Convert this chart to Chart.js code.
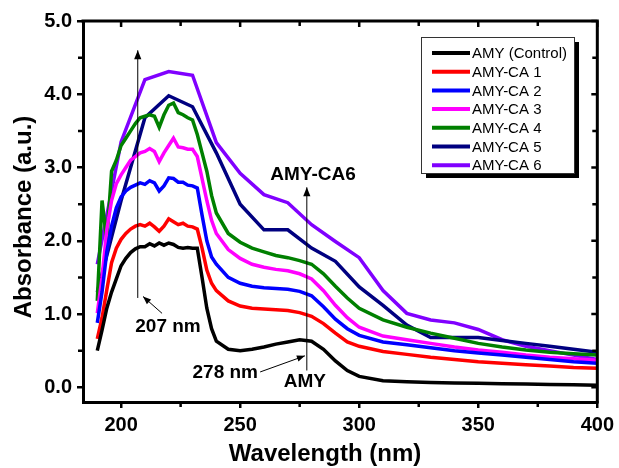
<!DOCTYPE html>
<html>
<head>
<meta charset="utf-8">
<script src="https://cdn.jsdelivr.net/npm/chart.js@4.4.1/dist/chart.umd.min.js"></script>
<style>
  html, body { margin: 0; padding: 0; background: #fff; }
</style>
</head>
<body>
<canvas id="uvChart" width="619" height="468"></canvas>
<script>
// wavelength grids (nm)
const wavelength = [190,192,194,196,198,200,202,204,206,208,210,212,214,216,218,220,222,224,226,228,230,232,234,236,238,240,
  245,250,255,260,265,270,275,280,285,290,295,300,310,320,330,340,350,360,370,380,390,400];
const wavelengthCoarse = [190,200,210,220,230,240,250,260,270,280,290,300,310,320,330,340,350,360,370,380,390,400];

// absorbance
const amyControl = [0.5,0.78,1.08,1.3,1.48,1.66,1.76,1.84,1.89,1.92,1.92,1.96,1.93,1.97,1.94,1.97,1.95,1.91,1.9,1.91,1.9,1.9,1.5,1.08,0.8,0.63,
  0.52,0.5,0.52,0.55,0.59,0.62,0.65,0.63,0.52,0.36,0.23,0.15,0.09,0.075,0.065,0.06,0.055,0.05,0.045,0.04,0.035,0.03];
const amyCA1 = [0.66,0.95,1.33,1.7,1.9,2.02,2.1,2.16,2.2,2.22,2.2,2.24,2.19,2.13,2.2,2.3,2.26,2.22,2.24,2.2,2.19,2.16,1.9,1.6,1.42,1.32,
  1.18,1.11,1.08,1.07,1.06,1.05,1.02,0.97,0.87,0.74,0.62,0.56,0.49,0.45,0.41,0.38,0.35,0.33,0.31,0.29,0.27,0.26];
const amyCA2 = [0.88,1.3,1.85,2.2,2.45,2.6,2.68,2.73,2.76,2.79,2.77,2.82,2.79,2.68,2.75,2.86,2.85,2.8,2.8,2.76,2.75,2.72,2.35,2.0,1.78,1.68,
  1.5,1.42,1.38,1.36,1.35,1.34,1.31,1.25,1.1,0.93,0.8,0.71,0.62,0.58,0.54,0.5,0.47,0.44,0.41,0.38,0.35,0.33];
const amyCA3 = [1.01,1.5,2.15,2.55,2.78,2.9,3.0,3.1,3.15,3.2,3.22,3.26,3.22,3.08,3.2,3.3,3.4,3.28,3.27,3.25,3.25,3.15,2.85,2.55,2.28,2.1,
  1.88,1.76,1.68,1.64,1.61,1.59,1.55,1.48,1.32,1.12,0.95,0.82,0.7,0.65,0.6,0.55,0.51,0.48,0.44,0.41,0.39,0.37];
const amyCA4 = [1.18,2.55,2.0,2.95,3.1,3.3,3.4,3.5,3.6,3.68,3.7,3.72,3.7,3.55,3.72,3.85,3.88,3.75,3.72,3.68,3.65,3.45,3.2,2.95,2.62,2.38,
  2.1,1.98,1.9,1.85,1.8,1.77,1.73,1.68,1.55,1.38,1.22,1.08,0.92,0.82,0.74,0.67,0.6,0.55,0.51,0.48,0.46,0.44];
const amyCA5 = [1.3,2.55,3.68,3.98,3.83,3.2,2.5,2.15,2.15,1.9,1.72,1.37,1.12,0.85,0.68,0.68,0.68,0.64,0.6,0.56,0.52,0.48];
const amyCA6 = [1.68,3.35,4.2,4.31,4.26,3.34,2.92,2.63,2.52,2.22,1.99,1.77,1.32,1.01,0.92,0.88,0.79,0.65,0.56,0.5,0.44,0.38];

const seriesLabels = ['AMY (Control)','AMY-CA 1','AMY-CA 2','AMY-CA 3','AMY-CA 4','AMY-CA 5','AMY-CA 6'];
const seriesColors = ['#000000','#ff0000','#0000ff','#ff00ff','#008000','#000080','#8000ff'];
const xTicks = [200, 250, 300, 350, 400];
const xMinor = [225, 275, 325, 375];
const yTicks = [0, 1, 2, 3, 4, 5];
const yMinor = [0.5, 1.5, 2.5, 3.5, 4.5];

const FONT = "'Liberation Sans', Arial, sans-serif";

function pts(xs, ys) {
  return xs.map((x, i) => ({ x: x, y: ys[i] }));
}

const seriesData = [
  pts(wavelength, amyControl),
  pts(wavelength, amyCA1),
  pts(wavelength, amyCA2),
  pts(wavelength, amyCA3),
  pts(wavelength, amyCA4),
  pts(wavelengthCoarse, amyCA5),
  pts(wavelengthCoarse, amyCA6)
];

function arrow(ctx, x1, y1, x2, y2, head) {
  ctx.beginPath();
  ctx.moveTo(x1, y1);
  ctx.lineTo(x2, y2);
  ctx.stroke();
  const a = Math.atan2(y2 - y1, x2 - x1);
  ctx.beginPath();
  ctx.moveTo(x2, y2);
  ctx.lineTo(x2 - head * Math.cos(a) + head * 0.4 * Math.sin(a), y2 - head * Math.sin(a) - head * 0.4 * Math.cos(a));
  ctx.lineTo(x2 - head * Math.cos(a) - head * 0.4 * Math.sin(a), y2 - head * Math.sin(a) + head * 0.4 * Math.cos(a));
  ctx.closePath();
  ctx.fill();
}

const decorations = {
  id: 'decorations',
  afterDatasetsDraw(chart) {
    const ctx = chart.ctx;
    const ca = chart.chartArea;
    const xs = chart.scales.x, ys = chart.scales.y;
    ctx.save();
    ctx.strokeStyle = '#000';
    ctx.fillStyle = '#000';

    // mirror axes top / right
    ctx.lineWidth = 3;
    ctx.beginPath();
    ctx.moveTo(ca.left - 1.5, ca.top);
    ctx.lineTo(ca.right, ca.top);
    ctx.lineTo(ca.right, ca.bottom + 1.5);
    ctx.stroke();

    // ticks
    ctx.lineWidth = 2.5;
    ctx.beginPath();
    xTicks.concat(xMinor).forEach(v => {
      const p = xs.getPixelForValue(v);
      const len = xMinor.includes(v) ? 5 : 6;
      ctx.moveTo(p, ca.top); ctx.lineTo(p, ca.top + len);
      if (xMinor.includes(v)) { ctx.moveTo(p, ca.bottom); ctx.lineTo(p, ca.bottom + len); }
    });
    yTicks.concat(yMinor).forEach(v => {
      const p = ys.getPixelForValue(v);
      const len = yMinor.includes(v) ? 5 : 6;
      ctx.moveTo(ca.right, p); ctx.lineTo(ca.right - len, p);
      if (yMinor.includes(v)) { ctx.moveTo(ca.left, p); ctx.lineTo(ca.left - len, p); }
    });
    ctx.stroke();

    // annotations
    ctx.lineWidth = 1;
    arrow(ctx, xs.getPixelForValue(207), ys.getPixelForValue(1.22), xs.getPixelForValue(207), ys.getPixelForValue(4.6), 9);
    arrow(ctx, xs.getPixelForValue(217.2), ys.getPixelForValue(1.01), xs.getPixelForValue(209.2), ys.getPixelForValue(1.24), 8);
    arrow(ctx, xs.getPixelForValue(278), ys.getPixelForValue(0.23), xs.getPixelForValue(278), ys.getPixelForValue(2.73), 9);
    arrow(ctx, xs.getPixelForValue(258.4), ys.getPixelForValue(0.21), xs.getPixelForValue(277.2), ys.getPixelForValue(0.43), 8);

    ctx.font = 'bold 19px ' + FONT;
    ctx.textAlign = 'center';
    ctx.textBaseline = 'middle';
    ctx.fillText('207 nm', xs.getPixelForValue(219.7), ys.getPixelForValue(0.83));
    ctx.fillText('AMY-CA6', xs.getPixelForValue(280.6), ys.getPixelForValue(2.9));
    ctx.fillText('AMY', xs.getPixelForValue(277.2), ys.getPixelForValue(0.08));
    ctx.textAlign = 'right';
    ctx.fillText('278 nm', xs.getPixelForValue(257.5), ys.getPixelForValue(0.2));

    // legend with shadow
    const lx = 421, ly = 37, lw = 153, lh = 136;
    ctx.fillRect(lx + 5, ly + 5, lw, lh);
    ctx.fillStyle = '#fff';
    ctx.fillRect(lx, ly, lw, lh);
    ctx.lineWidth = 1;
    ctx.strokeStyle = '#333';
    ctx.strokeRect(lx + 0.5, ly + 0.5, lw, lh);
    ctx.font = '15px ' + FONT;
    ctx.textAlign = 'left';
    ctx.textBaseline = 'middle';
    chart.data.datasets.forEach((ds, i) => {
      const yy = ly + 16 + i * 18.7;
      ctx.strokeStyle = ds.borderColor;
      ctx.lineWidth = 4;
      ctx.beginPath();
      ctx.moveTo(lx + 11, yy);
      ctx.lineTo(lx + 49, yy);
      ctx.stroke();
      ctx.fillStyle = '#000';
      ctx.fillText(ds.label, lx + 51, yy + 1);
    });

    // axis titles
    ctx.font = 'bold 24px ' + FONT;
    ctx.textAlign = 'center';
    ctx.fillText('Wavelength (nm)', 325, 454);
    ctx.translate(24, 217);
    ctx.rotate(-Math.PI / 2);
    ctx.fillText('Absorbance (a.u.)', 0, 0);
    ctx.restore();
  }
};

new Chart(document.getElementById('uvChart'), {
  type: 'line',
  data: {
    datasets: seriesLabels.map((label, i) => ({
      label: label,
      data: seriesData[i],
      borderColor: seriesColors[i],
      backgroundColor: seriesColors[i],
      borderWidth: 3.5,
      pointRadius: 0,
      tension: 0,
      fill: false
    }))
  },
  options: {
    responsive: false,
    animation: false,
    layout: { padding: { left: 0, right: 21, top: 21, bottom: 0 } },
    plugins: {
      legend: { display: false },
      tooltip: { enabled: false }
    },
    scales: {
      x: {
        type: 'linear',
        min: 184,
        max: 400,
        afterFit: s => { s.height = 66; },
        afterBuildTicks: s => { s.ticks = xTicks.map(v => ({ value: v })); },
        grid: { display: true, drawOnChartArea: false, drawTicks: true, tickLength: 6, color: '#000', lineWidth: 2.5 },
        border: { display: true, color: '#000', width: 3 },
        ticks: { color: '#000', font: { family: FONT, size: 20, weight: 'bold' }, padding: 5, maxRotation: 0 }
      },
      y: {
        min: -0.2,
        max: 5.0,
        afterFit: s => { s.width = 83; },
        afterBuildTicks: s => { s.ticks = yTicks.map(v => ({ value: v })); },
        grid: { display: true, drawOnChartArea: false, drawTicks: true, tickLength: 6, color: '#000', lineWidth: 2.5 },
        border: { display: true, color: '#000', width: 3 },
        ticks: { color: '#000', font: { family: FONT, size: 20, weight: 'bold' }, padding: 5, callback: v => v.toFixed(1) }
      }
    }
  },
  plugins: [decorations]
});
</script>
</body>
</html>
